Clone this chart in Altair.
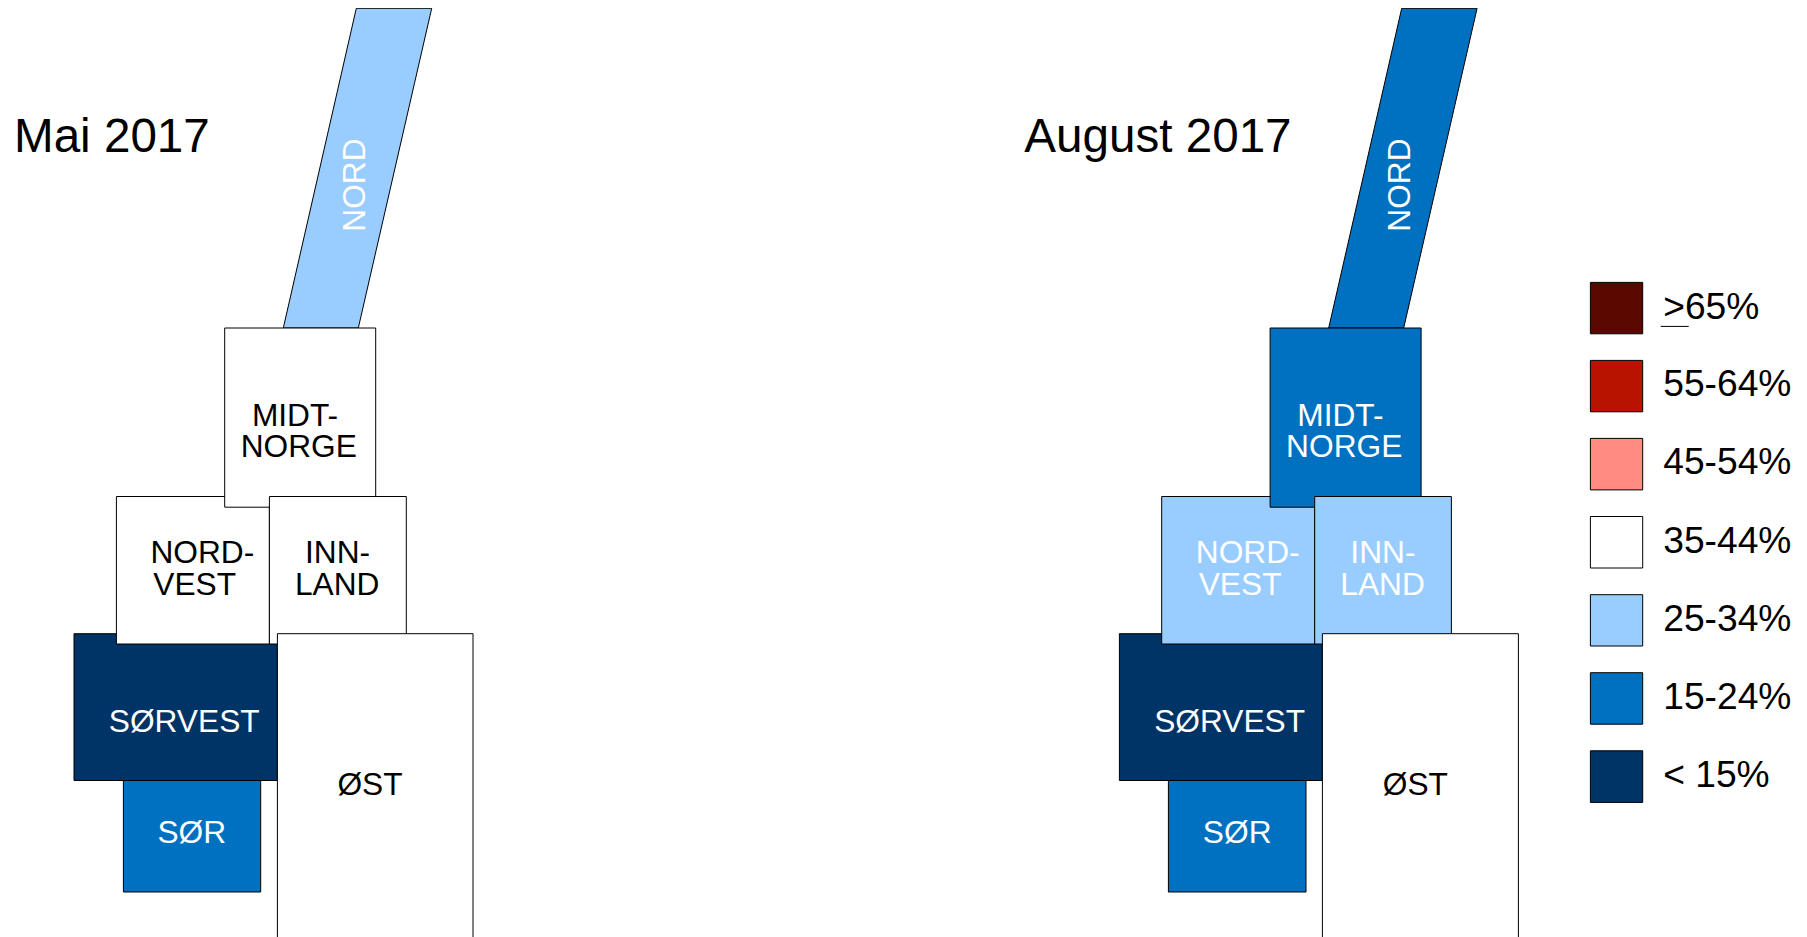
import altair as alt
import pandas as pd

FONT = "Liberation Sans"
W, H = 1791, 929

# Legend bands and colours
bands = [">65%", "55-64%", "45-54%", "35-44%", "25-34%", "15-24%", "< 15%"]
band_colors = ["#5A0800", "#B81200", "#FF8C82", "#FFFFFF", "#99CCFF", "#0070C0", "#003366"]

# Block-map regions, in drawing order (bottom to top)
regions = ["SØRVEST", "NORD-VEST", "MIDT-NORGE", "INNLAND", "SØR", "ØST"]
may_band = ["< 15%", "35-44%", "35-44%", "35-44%", "15-24%", "35-44%"]
aug_band = ["< 15%", "25-34%", "15-24%", "25-34%", "15-24%", "35-44%"]
top = [633.7, 496.5, 328.0, 496.5, 780.5, 633.7]
bottom = [780.5, 644.0, 507.2, 644.0, 892.0, 990.0]
may_left = [74.0, 116.4, 224.7, 269.4, 123.4, 277.4]
may_right = [277.4, 269.4, 375.7, 406.3, 260.7, 473.0]
aug_left = [1119.4, 1161.7, 1270.1, 1314.7, 1168.4, 1322.4]
aug_right = [1322.4, 1314.7, 1421.1, 1451.4, 1306.0, 1518.4]

# The slanted NORD block
nord_y = [8.3, 328.0]
nord_may_left = [356.3, 283.3]
nord_may_right = [431.7, 358.3]
nord_aug_left = [1401.7, 1328.7]
nord_aug_right = [1477.1, 1403.7]
nord_may_band = "25-34%"
nord_aug_band = "15-24%"

# Region labels, one row per line
label_text = ["MIDT-", "NORGE", "NORD-", "VEST", "INN-", "LAND", "SØRVEST", "SØR", "ØST"]
label_region = ["MIDT-NORGE", "MIDT-NORGE", "NORD-VEST", "NORD-VEST", "INNLAND", "INNLAND", "SØRVEST", "SØR", "ØST"]
label_y = [425.6, 457.3, 562.7, 594.7, 562.7, 594.7, 731.7, 842.7, 794.8]
may_label_x = [295.0, 298.8, 202.3, 194.7, 337.5, 337.2, 184.2, 191.8, 370.0]
aug_label_x = [1340.4, 1344.2, 1247.7, 1240.1, 1382.9, 1382.6, 1229.6, 1237.2, 1415.4]

# Rotated NORD labels
nord_label_x = [364.5, 1409.9]
nord_label_y = [185.0, 185.0]
nord_label_band = [nord_may_band, nord_aug_band]

# Panel titles
title_text = ["Mai 2017", "August 2017"]
title_x = [14.0, 1024.3]
title_y = [151.7, 151.7]

# Legend
legend_left, legend_right = 1590.4, 1642.7
legend_top = [282.4, 360.4, 438.4, 516.5, 594.7, 672.7, 750.8]
legend_bottom = [333.8, 411.8, 489.9, 568.0, 646.0, 724.2, 802.4]
legend_text_x = 1663.2
legend_base = [318.6, 396.4, 474.3, 552.7, 631.2, 709.2, 787.4]
under_x = [1660.7, 1688.7]
under_y = 326.4

x_scale = alt.Scale(domain=[8, 8 + W], nice=False, zero=False)
y_scale = alt.Scale(domain=[8 + H, 8], nice=False, zero=False)
X = alt.X("x:Q", scale=x_scale, axis=None)
Y = alt.Y("y:Q", scale=y_scale, axis=None)
color = alt.Color("band:N", scale=alt.Scale(domain=bands, range=band_colors), legend=None)


def ink(band):
    return "#000000" if band == "35-44%" else "#FFFFFF"


rects = []
for left, right, bnd in [(may_left, may_right, may_band), (aug_left, aug_right, aug_band)]:
    for i in range(len(regions)):
        rects.append(dict(x=left[i], x2=right[i], y=top[i], y2=bottom[i], band=bnd[i]))
for i, b in enumerate(bands):
    rects.append(dict(x=legend_left, x2=legend_right, y=legend_top[i], y2=legend_bottom[i], band=b))
rect_df = pd.DataFrame(rects)

nord_rows = []
for name, l, r, b in [("may", nord_may_left, nord_may_right, nord_may_band),
                      ("aug", nord_aug_left, nord_aug_right, nord_aug_band)]:
    for i in range(2):
        nord_rows.append(dict(panel=name, y=nord_y[i], x=l[i], x2=r[i], band=b))
nord_df = pd.DataFrame(nord_rows)

labels = []
for xs, bnd in [(may_label_x, may_band), (aug_label_x, aug_band)]:
    for i, t in enumerate(label_text):
        b = bnd[regions.index(label_region[i])]
        labels.append(dict(x=xs[i], y=label_y[i], t=t, ink=ink(b)))
label_df = pd.DataFrame(labels)

nord_label_df = pd.DataFrame(dict(x=nord_label_x, y=nord_label_y, t=["NORD", "NORD"],
                                  ink=[ink(b) for b in nord_label_band]))
title_df = pd.DataFrame(dict(x=title_x, y=title_y, t=title_text))
legend_df = pd.DataFrame(dict(x=[legend_text_x] * len(bands), y=legend_base, t=bands))
under_df = pd.DataFrame(dict(x=[under_x[0]], x2=[under_x[1]], y=[under_y]))

nord_layer = alt.Chart(nord_df).mark_area(
    orient="horizontal", stroke="#000000", strokeWidth=1, clip=True
).encode(y=Y, x=X, x2="x2:Q", color=color, detail="panel:N")

rect_layer = alt.Chart(rect_df).mark_rect(
    stroke="#000000", strokeWidth=1, clip=True
).encode(x=X, x2="x2:Q", y=Y, y2="y2:Q", color=color)

label_layer = alt.Chart(label_df).mark_text(
    font=FONT, fontSize=31.7, align="center", baseline="alphabetic"
).encode(x=X, y=Y, text="t:N", color=alt.Color("ink:N", scale=None))

nord_label_layer = alt.Chart(nord_label_df).mark_text(
    font=FONT, fontSize=31.7, align="center", baseline="alphabetic", angle=270
).encode(x=X, y=Y, text="t:N", color=alt.Color("ink:N", scale=None))

title_layer = alt.Chart(title_df).mark_text(
    font=FONT, fontSize=47.6, align="left", baseline="alphabetic", color="#000000"
).encode(x=X, y=Y, text="t:N")

legend_layer = alt.Chart(legend_df).mark_text(
    font=FONT, fontSize=37.2, align="left", baseline="alphabetic", color="#000000"
).encode(x=X, y=Y, text="t:N")

under_layer = alt.Chart(under_df).mark_rule(stroke="#000000", strokeWidth=1).encode(x=X, x2="x2:Q", y=Y)

chart = alt.layer(
    nord_layer, rect_layer, nord_label_layer, label_layer, title_layer, legend_layer, under_layer
).properties(
    width=W, height=H, padding=0, background="#FFFFFF"
).configure_view(stroke=None)

chart.save("out.html", embed_options={"renderer": "svg", "actions": False})
